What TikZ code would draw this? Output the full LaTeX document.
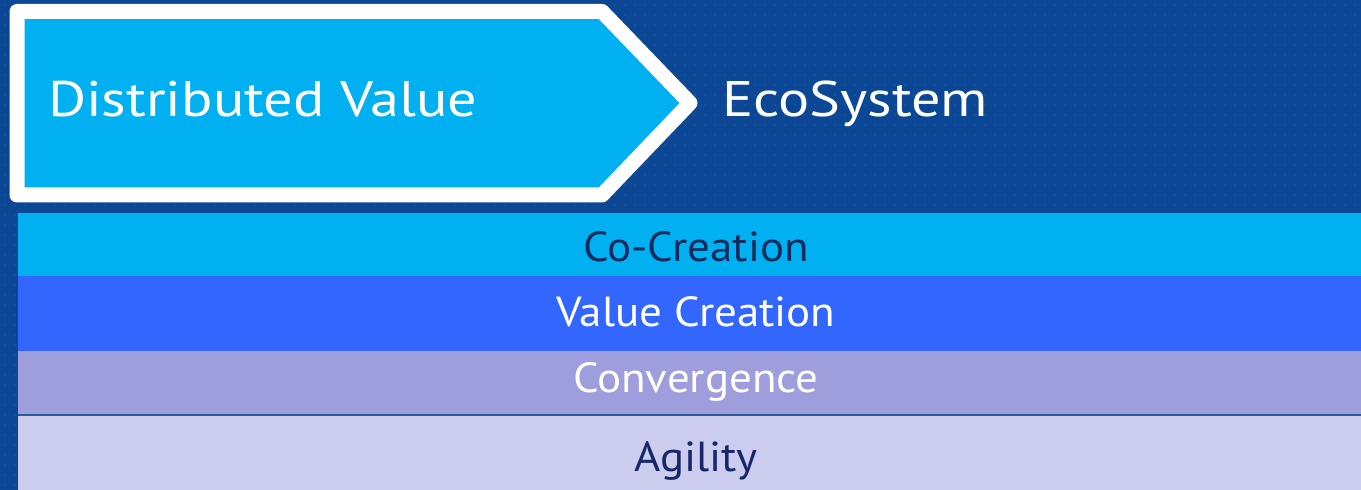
\documentclass[tikz,border=0pt]{standalone}
\usepackage{fontspec}
\setmainfont{PT Sans}
\newfontfamily\headfont[FakeStretch=1.165]{PT Sans}
\newfontfamily\bandfont[FakeStretch=1.07]{PT Sans}
\usepackage{tikz}
\usetikzlibrary{positioning,calc}
\usepackage{xcolor}

\definecolor{bgblue}{HTML}{0B4794}
\definecolor{dotblue}{HTML}{4A8AD0}
\definecolor{cyanband}{HTML}{00B0F0}
\definecolor{valueband}{HTML}{3366FF}
\definecolor{convband}{HTML}{9E9EDC}
\definecolor{agileband}{HTML}{CCCCEE}
\definecolor{navytext}{HTML}{0E2D5C}
\definecolor{agiletext}{HTML}{17286A}
\definecolor{sepblue}{HTML}{2C5A98}

\tikzset{
  chevron/.style={draw=white, fill=cyanband, line width=15pt, line join=round},
  band/.style={minimum width=1356pt, inner sep=0pt, outer sep=0pt},
  bandtext/.style={anchor=base, inner sep=0pt, font=\bandfont\fontsize{42}{48}\selectfont},
  headtext/.style={text=white, anchor=base west, inner sep=0pt, font=\headfont\fontsize{50}{58}\selectfont}
}

\begin{document}
\begin{tikzpicture}[x=1pt, y=1pt]
            % Background
            \useasboundingbox (0,0) rectangle (1361,490);
            \fill[bgblue] (0,0) rectangle (1361,490);
            \foreach \i in {0,...,135} {
                \foreach \j in {0,...,48} {
                    \fill[dotblue, opacity=0.18] (\i*10+5,\j*10+5) circle (1.3);
                }
            }
            
            % Chevron
            \draw[chevron] (17,478.5) -- (602,478.5) -- (690,387) -- (602,295) -- (17,295) -- cycle;
            \node[headtext] (DV) at (48,373) {Distributed Value};
            \node[headtext] (Eco) at (722,373) {EcoSystem};
            
            % Layers
            \node[band, fill=cyanband, minimum height=63pt] (CoCreation) at (696,245.5) {};
            \node[band, fill=valueband, minimum height=75pt] (ValueCreation) at (696,176.5) {};
            \node[band, fill=convband, minimum height=64pt] (Convergence) at (696,107) {};
            \node[band, fill=agileband, minimum height=75pt] (Agility) at (696,37.5) {};
            \draw[sepblue, line width=2pt] (Convergence.south west) -- (Convergence.south east);
            
            \node[bandtext, text=navytext] (CoCreationText) at (696,228) {Co-Creation};
            \node[bandtext, text=white] (ValueCreationText) at (696,163) {Value Creation};
            \node[bandtext, text=white] (ConvergenceText) at (696,97) {Convergence};
            \node[bandtext, text=agiletext] (AgilityText) at (696,18) {Agility};
\end{tikzpicture}
\end{document}
